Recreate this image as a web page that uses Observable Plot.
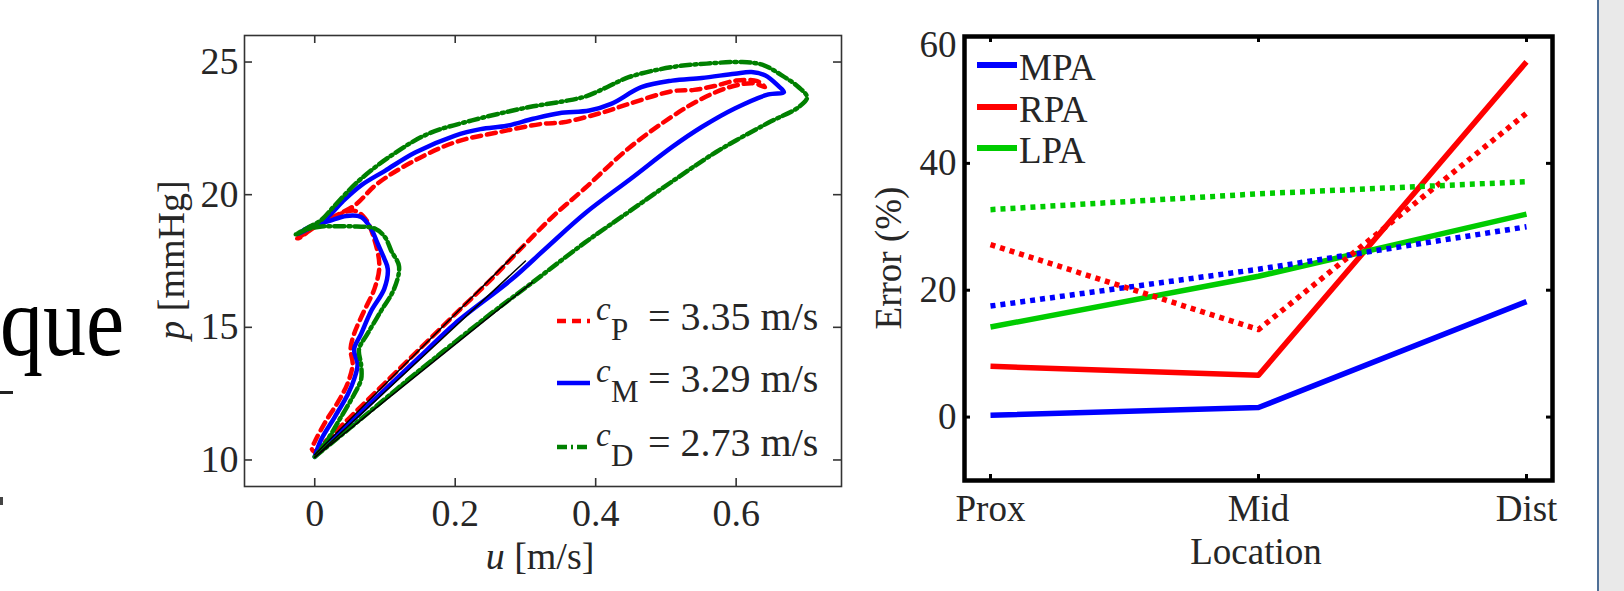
<!DOCTYPE html>
<html><head><meta charset="utf-8">
<script src="https://cdn.jsdelivr.net/npm/d3@7"></script>
<script src="https://cdn.jsdelivr.net/npm/@observablehq/plot@0.6"></script>
<style>
html,body{margin:0;padding:0;background:#fff;}
#page{position:relative;width:1624px;height:591px;overflow:hidden;background:#fff;font-family:"Liberation Serif","Times New Roman",serif;color:#222;}
.abs{position:absolute;}
.plot{position:absolute;top:0;}
.lbl{position:absolute;white-space:nowrap;line-height:1;}
.rot{transform:translate(-50%,-50%) rotate(-90deg);}
.ctr{transform:translate(-50%,-50%);}
</style></head><body>
<div id="page"></div>
<script>
// ---------- Left chart data: pressure-velocity loops (u [m/s], p [mmHg]) ----------
const loopP = [[0.0,10.3],[0.05,11.6],[0.1,12.9],[0.15,14.2],[0.2,15.5],[0.249,16.75],[0.298,18.09],[0.34,19.2],[0.385,20.25],[0.447,21.75],[0.509,22.95],[0.55,23.6],[0.59,24.05],[0.625,24.2],[0.641,24.05],
  [0.63,24.28],[0.6,24.3],[0.57,24.1],[0.54,23.95],[0.509,23.9],[0.447,23.42],[0.41,23.1],[0.354,22.73],[0.3235,22.67],[0.261,22.35],[0.199,21.97],[0.137,21.21],[0.088,20.39],[0.057,19.6],[0.025,19.15],[0.0,18.8],[-0.02,18.4],[-0.025,18.35],
  [-0.01,18.6],[0.01,18.95],[0.03,19.2],[0.056,19.4],[0.072,19.1],[0.085,18.3],[0.092,17.3],[0.085,16.45],[0.07,15.6],[0.056,14.75],[0.051,14.17],[0.054,13.6],[0.047,12.9],[0.033,12.18],[0.016,11.47],[0.0014,10.76],[-0.004,10.4],[0.0,10.3]];
const loopM = [[0.0,10.12],[0.05,11.4],[0.1,12.65],[0.15,13.9],[0.2,15.15],[0.28,16.8],[0.33,18.0],[0.385,19.3],[0.45,20.6],[0.509,21.8],[0.551,22.55],[0.598,23.25],[0.646,23.78],[0.668,23.86],
  [0.66,24.1],[0.641,24.5],[0.622,24.62],[0.598,24.56],[0.551,24.4],[0.509,24.3],[0.465,24.05],[0.422,23.42],[0.391,23.17],[0.348,23.07],[0.311,22.86],[0.2735,22.6],[0.236,22.47],[0.199,22.22],[0.143,21.59],[0.10,20.9],[0.066,20.35],[0.04,19.75],[0.02,19.2],[0.0,18.85],[-0.024,18.5],
  [-0.01,18.75],[0.02,19.0],[0.045,19.2],[0.066,19.16],[0.08,18.73],[0.0895,18.16],[0.099,17.59],[0.104,17.2],[0.099,16.45],[0.08,15.6],[0.066,14.75],[0.056,14.17],[0.061,13.6],[0.056,13.04],[0.047,12.47],[0.028,11.6],[0.009,10.76],[0.0,10.12]];
const loopD = [[0.0,10.12],[0.05,11.2],[0.1,12.3],[0.15,13.4],[0.2,14.45],[0.25,15.5],[0.309,16.67],[0.385,18.2],[0.447,19.35],[0.509,20.5],[0.571,21.6],[0.645,22.7],[0.689,23.3],[0.701,23.67],
  [0.689,24.05],[0.665,24.5],[0.637,24.9],[0.608,25.0],[0.558,24.94],[0.509,24.81],[0.447,24.43],[0.416,24.05],[0.385,23.7],[0.354,23.52],[0.311,23.33],[0.2735,23.12],[0.224,22.8],[0.162,22.3],[0.1125,21.54],[0.063,20.53],[0.026,19.52],[0.0095,19.05],[-0.01,18.75],[-0.027,18.5],
  [-0.01,18.7],[0.01,18.8],[0.03,18.81],[0.06,18.8],[0.085,18.73],[0.1,18.4],[0.109,17.88],[0.12,17.3],[0.113,16.45],[0.094,15.6],[0.075,14.75],[0.063,14.17],[0.066,13.6],[0.066,13.04],[0.056,12.47],[0.037,11.6],[0.018,10.76],[0.0,10.12]];
// early-systole linear fits (black)
const fitP = [[0.0,10.2],[0.298,18.1]];
const fitM = [[0.0,10.1],[0.30,17.5]];
const fitD = [[0.0,10.1],[0.31,16.7]];
const uTicks = [0, 0.2, 0.4, 0.6];
const pTicks = [10, 15, 20, 25];
const waveSpeedLabels = ["P", "M", "D"];
const waveSpeeds = ["3.35", "3.29", "2.73"];

// ---------- Right chart data: Error (%) by location ----------
const locations = ["Prox", "Mid", "Dist"];
const vessels = ["MPA", "RPA", "LPA"];
const mpaSolid = [0.3, 1.5, 18.2];
const rpaSolid = [8.0, 6.6, 56.0];
const lpaSolid = [14.2, 22.2, 32.0];
const mpaDotted = [17.5, 23.3, 30.0];
const rpaDotted = [27.2, 13.8, 47.9];
const lpaDotted = [32.7, 35.2, 37.1];
const errTicks = [0, 20, 40, 60];

// ---------- build ----------
const page = document.getElementById("page");
const toRows = (arr) => arr.map(([u, p]) => ({u, p}));
const serif = '"Liberation Serif","Times New Roman",serif';
const fmt = d => String(d);

const LW = 860, LH = 591, LmL = 244, LmR = 19, LmT = 35, LmB = 105;
const LfH = LH - LmT - LmB;
const left = Plot.plot({
  width: LW, height: LH,
  marginLeft: LmL, marginRight: LmR, marginTop: LmT, marginBottom: LmB,
  x: {domain: [-0.1, 0.75]},
  y: {domain: [9, 26]},
  style: {fontFamily: serif, fontSize: "38px", color: "#262626", background: "transparent", overflow: "visible"},
  marks: [
    Plot.line(toRows(loopP), {x: "u", y: "p", stroke: "#ff0000", strokeWidth: 4.5, strokeDasharray: "9,6", curve: "catmull-rom"}),
    Plot.line(toRows(loopM), {x: "u", y: "p", stroke: "#0000ff", strokeWidth: 4.5, curve: "catmull-rom"}),
    Plot.line(toRows(loopD), {x: "u", y: "p", stroke: "#008000", strokeWidth: 4.5, strokeDasharray: "10,4,2,4", curve: "catmull-rom"}),
    Plot.line(toRows(fitP), {x: "u", y: "p", stroke: "#000", strokeWidth: 1.5}),
    Plot.line(toRows(fitM), {x: "u", y: "p", stroke: "#000", strokeWidth: 1.5}),
    Plot.line(toRows(fitD), {x: "u", y: "p", stroke: "#000", strokeWidth: 1.5}),
    Plot.frame({stroke: "#333", strokeWidth: 1.6}),
    Plot.ruleX(uTicks, {x: d => d, insetTop: LfH - 8, stroke: "#333", strokeWidth: 1.6}),
    Plot.ruleX(uTicks, {x: d => d, insetBottom: LfH - 8, stroke: "#333", strokeWidth: 1.6}),
    Plot.ruleY(pTicks, {y: d => d, insetRight: (LW - LmL - LmR) - 8, stroke: "#333", strokeWidth: 1.6}),
    Plot.ruleY(pTicks, {y: d => d, insetLeft: (LW - LmL - LmR) - 8, stroke: "#333", strokeWidth: 1.6}),
    Plot.axisX(uTicks, {tickSize: 0, tickPadding: 13, label: null, fontSize: 38, tickFormat: fmt}),
    Plot.axisY(pTicks, {tickSize: 0, tickPadding: 6, label: null, fontSize: 38, tickFormat: fmt})
  ]
});
left.classList.add("plot");
left.style.left = "0px";
page.appendChild(left);

const RW = 764, RH = 591, RmL = 104, RmR = 72, RmT = 36, RmB = 111;
const RfW = RW - RmL - RmR, RfH = RH - RmT - RmB;
const seriesDefs = [
  {name: "MPA", kind: "solid", vals: mpaSolid, color: "#0000ff"},
  {name: "RPA", kind: "solid", vals: rpaSolid, color: "#ff0000"},
  {name: "LPA", kind: "solid", vals: lpaSolid, color: "#00cc00"},
  {name: "MPA", kind: "dotted", vals: mpaDotted, color: "#0000ff"},
  {name: "RPA", kind: "dotted", vals: rpaDotted, color: "#ff0000"},
  {name: "LPA", kind: "dotted", vals: lpaDotted, color: "#00cc00"}
];
const topTick = errTicks[errTicks.length - 1];
const right = Plot.plot({
  width: RW, height: RH,
  marginLeft: RmL, marginRight: RmR, marginTop: RmT, marginBottom: RmB,
  x: {type: "point", domain: locations, padding: 0.097},
  y: {domain: [-10, 60]},
  style: {fontFamily: serif, fontSize: "37px", color: "#262626", background: "transparent", overflow: "visible"},
  marks: [
    ...seriesDefs.map(s => Plot.line(locations.map((loc, i) => ({loc, v: s.vals[i]})), {
      x: "loc", y: "v", stroke: s.color, strokeWidth: 5.5,
      strokeDasharray: s.kind === "dotted" ? "5,5" : null, strokeLinecap: "butt"
    })),
    Plot.frame({stroke: "#000", strokeWidth: 4.5}),
    Plot.ruleX(locations, {x: d => d, insetTop: RfH - 6, stroke: "#000", strokeWidth: 3}),
    Plot.ruleX(locations, {x: d => d, insetBottom: RfH - 6, stroke: "#000", strokeWidth: 3}),
    Plot.ruleY(errTicks, {y: d => d, insetRight: RfW - 6, stroke: "#000", strokeWidth: 3}),
    Plot.ruleY(errTicks, {y: d => d, insetLeft: RfW - 6, stroke: "#000", strokeWidth: 3}),
    Plot.axisX(locations, {tickSize: 0, tickPadding: 14, label: null, fontSize: 37}),
    Plot.axisY(errTicks.filter(t => t !== topTick), {tickSize: 0, tickPadding: 8, label: null, fontSize: 37, tickFormat: fmt}),
    Plot.axisY([topTick], {tickSize: 0, tickPadding: 8, label: null, fontSize: 37, tickFormat: fmt, dy: 9})
  ]
});
right.classList.add("plot");
right.style.left = "860px";
page.appendChild(right);

// ---------- overlay text ----------
function addLabel(html, x, y, cls, size, extra) {
  const d = document.createElement("div");
  d.className = "lbl " + cls;
  d.style.left = x + "px"; d.style.top = y + "px";
  d.style.fontSize = size + "px";
  if (extra) Object.assign(d.style, extra);
  d.innerHTML = html;
  page.appendChild(d);
  return d;
}
// axis titles
addLabel('<i>p</i> [mmHg]', 171, 260, "rot", 38, {color: "#262626"});
addLabel('<i>u</i> [m/s]', 540, 556, "ctr", 38, {color: "#262626"});
addLabel('Error (%)', 888, 258, "rot", 37, {color: "#262626"});
addLabel('Location', 1256, 551, "ctr", 37, {color: "#262626"});

// slide text fragments on the left
addLabel('que', 0, 272, "", 100, {color: "#000", transform: "scaleX(0.86)", transformOrigin: "0 0"});
const dash = document.createElement("div");
dash.className = "abs"; Object.assign(dash.style, {left: "0px", top: "391px", width: "13px", height: "3px", background: "#222"});
page.appendChild(dash);
const frag = document.createElement("div");
frag.className = "abs"; Object.assign(frag.style, {left: "0px", top: "497px", width: "3px", height: "8px", background: "#444"});
page.appendChild(frag);

// left legend
const legColors = ["#ff0000", "#0000ff", "#008000"];
const legDash = ["9,6", null, "10,4,2,4"];
const legY = [321, 383, 447];
waveSpeedLabels.forEach((sub, i) => {
  const sv = document.createElementNS("http://www.w3.org/2000/svg", "svg");
  sv.setAttribute("width", 34); sv.setAttribute("height", 10);
  Object.assign(sv.style, {position: "absolute", left: "557px", top: (legY[i] - 5) + "px"});
  const ln = document.createElementNS("http://www.w3.org/2000/svg", "line");
  ln.setAttribute("x1", 0); ln.setAttribute("x2", 33); ln.setAttribute("y1", 5); ln.setAttribute("y2", 5);
  ln.setAttribute("stroke", legColors[i]); ln.setAttribute("stroke-width", 4.5);
  if (legDash[i]) ln.setAttribute("stroke-dasharray", legDash[i]);
  sv.appendChild(ln); page.appendChild(sv);
  addLabel('<i>c</i>', 596, legY[i] - 12, "ctr", 33, {transform: "translate(0,-50%)", color: "#262626"});
  addLabel(sub, 611, legY[i] + 8, "ctr", 31, {transform: "translate(0,-50%)", color: "#262626"});
  addLabel('= ' + waveSpeeds[i] + ' m/s', 648, legY[i] - 4, "ctr", 40, {transform: "translate(0,-50%)", color: "#262626"});
});

// right legend
const rLegColors = ["#0000ff", "#ff0000", "#00cc00"];
const rLegY = [65, 107, 148];
vessels.forEach((v, i) => {
  const sw = document.createElement("div");
  sw.className = "abs";
  Object.assign(sw.style, {left: "977px", top: (rLegY[i] - 3) + "px", width: "40px", height: "6px", background: rLegColors[i]});
  page.appendChild(sw);
  addLabel(v, 1019, rLegY[i] + 2, "ctr", 37, {transform: "translate(0,-50%)", color: "#262626"});
});

// slide border on the right
const border = document.createElement("div");
border.className = "abs";
Object.assign(border.style, {left: "1597px", top: "0px", width: "27px", height: "591px", background: "#e9e9e9", borderLeft: "2px solid #4f6f96", boxSizing: "border-box"});
page.appendChild(border);
</script>
</body></html>
